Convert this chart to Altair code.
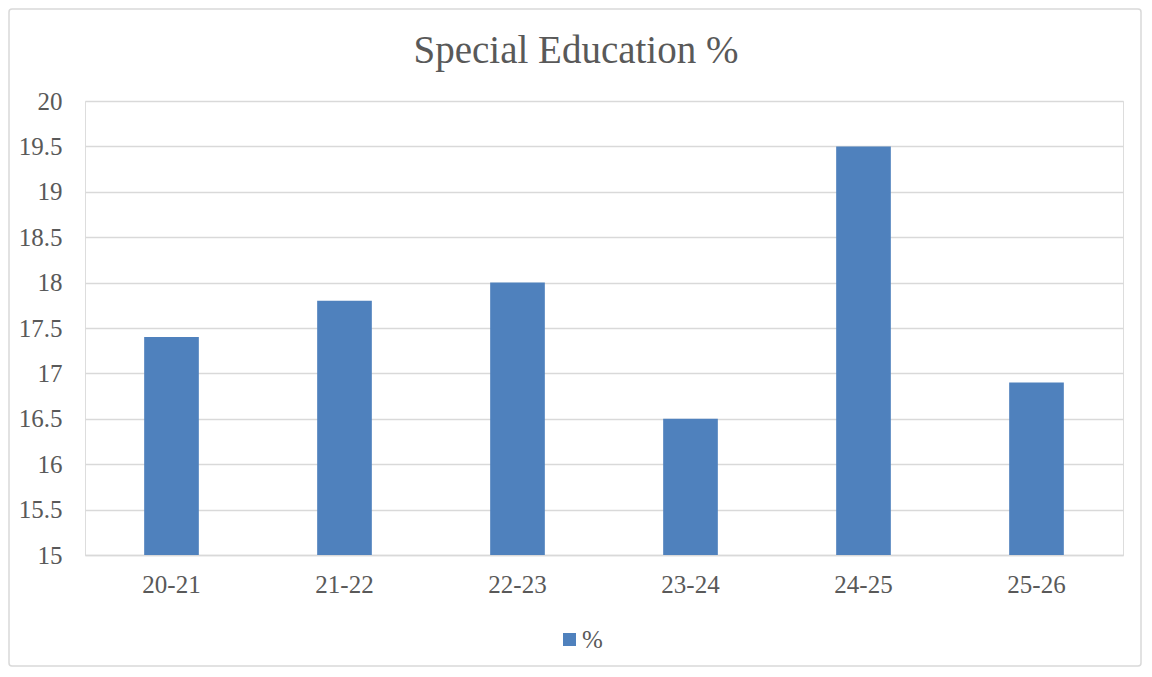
import altair as alt
import pandas as pd

years = ["20-21", "21-22", "22-23", "23-24", "24-25", "25-26"]
values = [17.4, 17.8, 18.0, 16.5, 19.5, 16.9]
series = ["%"] * len(years)
y_ticks = [15, 15.5, 16, 16.5, 17, 17.5, 18, 18.5, 19, 19.5, 20]
title_text = "Special Education %"

df = pd.DataFrame({"year": years, "value": values, "series": series})

FONT = "Liberation Serif"
GREY = "#595959"
GRID = "#d9d9d9"
BLUE = "#4f81bd"

W, H = 1038, 454
PL, PT, PR, PB = 77, 93, 19, 112

bars = alt.Chart(df).mark_bar(color=BLUE).encode(
    x=alt.X("year:N", sort=years, title=None,
            scale=alt.Scale(paddingInner=0.684, paddingOuter=0.342),
            axis=alt.Axis(labelAngle=0, ticks=False, domainColor=GRID, domainWidth=1.5,
                          labelFont=FONT, labelFontSize=25, labelColor=GREY,
                          labelPadding=17, grid=False)),
    y=alt.Y("value:Q", title=None,
            scale=alt.Scale(domain=[15, 20], zero=False, nice=False),
            axis=alt.Axis(values=y_ticks, format="~f", ticks=False, domain=False,
                          gridColor=GRID, gridWidth=1.5,
                          labelFont=FONT, labelFontSize=25, labelColor=GREY,
                          labelPadding=23)),
    y2=alt.datum(15),
    color=alt.Color("series:N", title=None,
                    scale=alt.Scale(domain=["%"], range=[BLUE]),
                    legend=alt.Legend(orient="none", legendX=472, legendY=526,
                                      symbolType="square", symbolSize=169,
                                      symbolStrokeWidth=0, padding=0,
                                      labelFont=FONT, labelFontSize=25,
                                      labelColor=GREY, labelOffset=0)),
)

border = alt.Chart(pd.DataFrame({"a": [0]})).mark_rect(
    fill=None, stroke=GRID, strokeWidth=1.5, cornerRadius=3
).encode(
    x=alt.value(-PL + 1), x2=alt.value(W + PR - 1),
    y=alt.value(-PT + 1), y2=alt.value(H + PB - 1),
)

chart = alt.layer(bars, border).properties(
    width=W, height=H,
    padding={"left": PL, "top": PT, "right": PR, "bottom": PB},
    autosize=alt.AutoSizeParams(type="none"),
    title=alt.TitleParams(title_text, font=FONT, fontSize=39, fontWeight="normal",
                          color=GREY, anchor="middle", baseline="alphabetic",
                          offset=-93.5, dx=-28),
).configure_view(stroke=None).configure(background="white")

chart.save("out.html", embed_options={"renderer": "svg", "actions": False})
